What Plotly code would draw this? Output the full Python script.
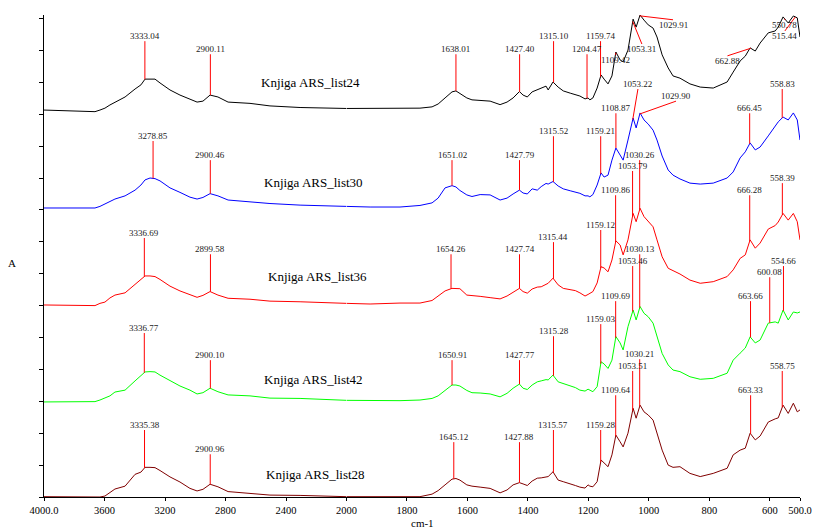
import numpy as np
import plotly.graph_objects as go

# ---------------------------------------------------------------------------
# FTIR spectra (stacked, absorbance with vertical offsets already applied)
# ---------------------------------------------------------------------------
WAVENUMBER = [
    4000, 3828, 3663, 3630, 3597, 3564, 3531, 3464, 3398, 3359, 3332, 3299, 3266,
    3233, 3167, 3101, 3035, 2988, 2949, 2902, 2850, 2783, 2638, 2506, 2307, 2109,
    2000,
    1922, 1823, 1757, 1717, 1697, 1674, 1651, 1638, 1625, 1602,
    1585, 1558, 1525, 1492, 1469, 1449, 1428, 1416, 1402, 1386,
    1369, 1356, 1340, 1333, 1317, 1300, 1283, 1260, 1243, 1228,
    1211, 1201, 1195, 1185, 1171, 1158, 1148, 1135, 1122, 1109,
    1095, 1085, 1069, 1052, 1042, 1029, 1016, 1002, 986, 973,
    956, 936, 920, 897, 864, 830, 787, 741, 721, 698,
    681, 665, 648, 632, 605, 582, 572, 556, 539, 522,
    509, 500,
]

LIST24 = [
    12.13, 12.10, 12.08, 12.13, 12.19, 12.29, 12.38, 12.54, 12.79, 12.92, 13.10, 13.10, 13.10,
    12.98, 12.76, 12.60, 12.48, 12.38, 12.41, 12.60, 12.54, 12.38, 12.34, 12.26, 12.21, 12.19,
    12.18,
    12.18, 12.19, 12.19, 12.23, 12.32, 12.51, 12.70, 12.73, 12.66, 12.51,
    12.45, 12.43, 12.41, 12.30, 12.38, 12.51, 12.71, 12.60, 12.54, 12.70,
    12.76, 12.82, 12.88, 12.76, 13.01, 12.85, 12.73, 12.66, 12.60, 12.57,
    12.48, 12.51, 12.45, 12.51, 12.82, 13.23, 13.10, 12.95, 13.20, 13.95,
    13.70, 13.64, 14.01, 14.98, 14.73, 15.11, 14.95, 14.80, 14.70, 14.42,
    13.86, 13.45, 13.20, 13.13, 12.95, 12.85, 12.82, 13.01, 13.32, 13.67,
    13.82, 14.08, 13.98, 14.23, 14.55, 14.61, 14.73, 15.05, 14.86, 15.08,
    15.02, 14.42,
]

LIST30 = [
    9.06, 9.06, 9.06, 9.11, 9.18, 9.25, 9.34, 9.44, 9.62, 9.78, 9.94, 10.00, 9.98,
    9.91, 9.69, 9.55, 9.40, 9.34, 9.39, 9.51, 9.44, 9.31, 9.25, 9.20, 9.15, 9.12,
    9.11,
    9.09, 9.09, 9.14, 9.22, 9.37, 9.69, 9.76, 9.72, 9.61, 9.47,
    9.42, 9.48, 9.47, 9.31, 9.37, 9.50, 9.62, 9.53, 9.50, 9.66,
    9.62, 9.73, 9.83, 9.81, 9.89, 9.75, 9.66, 9.60, 9.56, 9.52,
    9.44, 9.44, 9.41, 9.48, 9.78, 10.16, 10.03, 10.09, 10.56, 10.94,
    10.72, 10.56, 11.19, 11.88, 11.57, 12.04, 11.82, 11.69, 11.50, 11.19,
    10.69, 10.25, 10.09, 9.97, 9.84, 9.81, 9.84, 10.00, 10.19, 10.63,
    10.82, 11.10, 10.88, 10.97, 11.32, 11.63, 11.76, 11.91, 11.82, 12.04,
    11.82, 11.19,
]

LIST36 = [
    6.02, 6.02, 6.00, 6.07, 6.11, 6.24, 6.33, 6.40, 6.65, 6.80, 6.93, 6.93, 6.91,
    6.82, 6.61, 6.46, 6.33, 6.26, 6.32, 6.44, 6.33, 6.23, 6.20, 6.14, 6.12, 6.08,
    6.07,
    6.05, 6.08, 6.08, 6.16, 6.29, 6.46, 6.54, 6.54, 6.53, 6.33,
    6.32, 6.29, 6.25, 6.21, 6.30, 6.41, 6.54, 6.44, 6.39, 6.52,
    6.58, 6.59, 6.68, 6.70, 6.86, 6.65, 6.54, 6.50, 6.47, 6.40,
    6.30, 6.35, 6.39, 6.44, 6.71, 7.22, 7.18, 7.06, 7.43, 8.03,
    7.90, 7.59, 8.06, 8.89, 8.63, 9.05, 8.79, 8.63, 8.47, 8.06,
    7.53, 7.17, 7.10, 6.99, 6.80, 6.70, 6.75, 6.91, 7.12, 7.48,
    7.59, 8.06, 7.80, 7.96, 8.40, 8.51, 8.62, 8.89, 8.68, 8.89,
    8.63, 8.06,
]

LIST42 = [
    2.98, 2.98, 2.99, 3.04, 3.10, 3.17, 3.29, 3.35, 3.64, 3.79, 3.92, 3.93, 3.92,
    3.82, 3.64, 3.48, 3.35, 3.23, 3.27, 3.41, 3.30, 3.20, 3.17, 3.10, 3.09, 3.06,
    3.03,
    3.02, 3.02, 3.04, 3.09, 3.17, 3.34, 3.51, 3.51, 3.48, 3.34,
    3.27, 3.26, 3.23, 3.14, 3.25, 3.41, 3.54, 3.41, 3.37, 3.51,
    3.61, 3.64, 3.68, 3.67, 3.82, 3.61, 3.56, 3.50, 3.43, 3.35,
    3.32, 3.38, 3.34, 3.30, 3.46, 4.24, 4.17, 4.03, 4.29, 5.03,
    4.83, 4.61, 5.34, 5.86, 5.55, 5.97, 5.76, 5.65, 5.45, 5.02,
    4.50, 4.14, 3.98, 3.93, 3.77, 3.69, 3.72, 3.88, 4.29, 4.51,
    4.67, 5.02, 4.83, 4.92, 5.45, 5.49, 5.45, 5.86, 5.55, 5.80,
    5.77, 5.80,
]

LIST28 = [
    0.01, 0.01, 0.00, 0.00, 0.03, 0.13, 0.25, 0.34, 0.71, 0.78, 0.93, 0.93, 0.92,
    0.83, 0.63, 0.47, 0.27, 0.19, 0.24, 0.40, 0.32, 0.17, 0.12, 0.06, 0.05, 0.02,
    0.01,
    0.01, 0.01, 0.01, 0.09, 0.20, 0.38, 0.56, 0.58, 0.53, 0.38,
    0.34, 0.31, 0.27, 0.13, 0.22, 0.38, 0.45, 0.41, 0.36, 0.50,
    0.59, 0.60, 0.63, 0.64, 0.79, 0.53, 0.48, 0.42, 0.36, 0.31,
    0.28, 0.38, 0.34, 0.32, 0.48, 1.16, 1.08, 0.95, 1.32, 1.94,
    1.73, 1.57, 2.00, 2.78, 2.47, 2.88, 2.67, 2.57, 2.41, 2.00,
    1.47, 1.00, 0.93, 0.95, 0.74, 0.64, 0.74, 0.90, 1.32, 1.47,
    1.53, 2.00, 1.79, 1.91, 2.35, 2.45, 2.48, 2.88, 2.62, 2.94,
    2.67, 2.73,
]

SAMPLE_NAMES = ["Knjiga ARS_list24", "Knjiga ARS_list30", "Knjiga ARS_list36",
                "Knjiga ARS_list42", "Knjiga ARS_list28"]

# Picked peak positions (cm-1) for each spectrum
PEAKS_24 = [3333.04, 2900.11, 1638.01, 1427.40, 1315.10, 1204.47, 1159.74, 1109.42,
            1053.31, 1029.91, 662.88, 550.78, 515.44]
PEAKS_30 = [3278.85, 2900.46, 1651.02, 1427.79, 1315.52, 1159.21, 1108.87, 1053.22,
            1029.90, 666.45, 558.83]
PEAKS_36 = [3336.69, 2899.58, 1654.26, 1427.74, 1315.44, 1159.12, 1109.86, 1053.79,
            1030.26, 666.28, 558.39]
PEAKS_42 = [3336.77, 2900.10, 1650.91, 1427.77, 1315.28, 1159.03, 1109.69, 1053.46,
            1030.13, 663.66, 600.08, 554.66]
PEAKS_28 = [3335.38, 2900.96, 1645.12, 1427.88, 1315.57, 1159.28, 1109.64, 1053.51,
            1030.21, 663.33, 558.75]

X_TICKS_HIGH = [4000, 3600, 3200, 2800, 2400]
X_TICK_TEXT_HIGH = ["4000.0", "3600", "3200", "2800", "2400"]
X_TICKS_LOW = [2000, 1800, 1600, 1400, 1200, 1000, 800, 600, 500]
X_TICK_TEXT_LOW = ["2000", "1800", "1600", "1400", "1200", "1000", "800", "600", "500.0"]

# ---------------------------------------------------------------------------
# Label placement: (label x in cm-1 or None = at the peak, label centre y,
# side of the leader line: "up" = label above the line, "down" = below)
# ---------------------------------------------------------------------------
LABELS_24 = [(None, 14.45, "up"), (None, 14.04, "up"), (None, 14.04, "up"),
             (None, 14.04, "up"), (None, 14.45, "up"), (None, 14.04, "up"),
             (None, 14.45, "up"), (None, 13.70, "down"), (1023, 14.04, "down"),
             (920, 14.80, "down"), (740, 13.67, "down"), (550, 14.80, "down"),
             (550, 14.45, "down")]
LABELS_30 = [(None, 11.32, "up"), (None, 10.72, "up"), (None, 10.72, "up"),
             (None, 10.72, "up"), (None, 11.47, "up"), (None, 11.47, "up"),
             (None, 12.19, "up"), (1036, 12.95, "up"), (910, 12.57, "up"),
             (None, 12.19, "up"), (None, 12.95, "up")]
LABELS_36 = [(None, 8.28, "up"), (None, 7.77, "up"), (None, 7.77, "up"),
             (None, 7.77, "up"), (None, 8.15, "up"), (None, 8.53, "up"),
             (None, 9.62, "up"), (None, 10.38, "up"), (None, 10.72, "up"),
             (None, 9.62, "up"), (None, 10.00, "up")]
LABELS_42 = [(None, 5.30, "up"), (None, 4.45, "up"), (None, 4.45, "up"),
             (None, 4.45, "up"), (None, 5.20, "up"), (None, 5.58, "up"),
             (None, 6.30, "up"), (None, 7.40, "up"), (None, 7.77, "up"),
             (None, 6.30, "up"), (None, 7.05, "up"), (None, 7.40, "up")]
LABELS_28 = [(None, 2.26, "up"), (None, 1.50, "up"), (None, 1.88, "up"),
             (None, 1.88, "up"), (None, 2.26, "up"), (None, 2.26, "up"),
             (None, 3.35, "up"), (None, 4.11, "up"), (None, 4.48, "up"),
             (None, 3.35, "up"), (None, 4.11, "up")]

# Sample name placement (cm-1 on the high-wavenumber axis, y)
NAME_POS = [(2235, 12.98), (2221, 9.87), (2195, 6.90), (2215, 3.67), (2208, 0.69)]

COLORS = ["#000000", "#0000ff", "#ff0000", "#00ff00", "#800000"]
SPECTRA = [LIST24, LIST30, LIST36, LIST42, LIST28]
PEAKS = [PEAKS_24, PEAKS_30, PEAKS_36, PEAKS_42, PEAKS_28]
LABELS = [LABELS_24, LABELS_30, LABELS_36, LABELS_42, LABELS_28]

for s in SPECTRA:
    assert len(s) == len(WAVENUMBER)

SERIF = "Liberation Serif, Times New Roman, serif"
SPLIT = 302.5 / 756.0   # 4000-2000 cm-1 drawn at half the scale of 2000-500 cm-1
GAP = 0.16              # half text height in y units

wn = np.array(WAVENUMBER, dtype=float)


def axis_of(w):
    return "x" if w > 2000 else "x2"


def value_at(w, ys):
    return float(np.interp(w, wn[::-1], np.asarray(ys, dtype=float)[::-1]))


fig = go.Figure()
high = wn >= 2000
low = wn <= 2000
for ys, color in zip(SPECTRA, COLORS):
    y = np.asarray(ys, dtype=float)
    fig.add_trace(go.Scatter(x=wn[high], y=y[high], xaxis="x", yaxis="y", mode="lines",
                             line=dict(color=color, width=1), showlegend=False,
                             hoverinfo="skip"))
    fig.add_trace(go.Scatter(x=wn[low], y=y[low], xaxis="x2", yaxis="y", mode="lines",
                             line=dict(color=color, width=1), showlegend=False,
                             hoverinfo="skip"))

shapes = []
annotations = []
for ys, peaks, labels in zip(SPECTRA, PEAKS, LABELS):
    for p, (lx, ly, side) in zip(peaks, labels):
        tx = p if lx is None else lx
        ax = axis_of(p)
        y_curve = value_at(p, ys)
        y_end = ly - GAP if side == "up" else ly + GAP
        shapes.append(dict(type="line", xref=ax, yref="y", x0=p, y0=y_curve,
                           x1=tx, y1=y_end, line=dict(color="#ff0000", width=1)))
        annotations.append(dict(text=f"{p:.2f}", x=tx, y=ly, xref=axis_of(tx), yref="y",
                                showarrow=False, xanchor="center", yanchor="middle",
                                font=dict(family=SERIF, size=9, color="#222222")))

for name, (nx, ny) in zip(SAMPLE_NAMES, NAME_POS):
    annotations.append(dict(text=name, x=nx, y=ny, xref="x", yref="y", showarrow=False,
                            xanchor="center", yanchor="middle",
                            font=dict(family=SERIF, size=13, color="#000000")))

annotations.append(dict(text="cm-1", x=0.5, y=-0.054, xref="paper", yref="paper",
                        showarrow=False, xanchor="center", yanchor="middle",
                        font=dict(family=SERIF, size=11, color="#000000")))
annotations.append(dict(text="A", x=-0.042, y=0.486, xref="paper", yref="paper",
                        showarrow=False, xanchor="center", yanchor="middle",
                        font=dict(family=SERIF, size=11, color="#000000")))

common_x = dict(showline=True, linecolor="#000000", linewidth=1, ticks="outside",
                ticklen=3, tickcolor="#000000", showgrid=False, zeroline=False,
                anchor="y", automargin=False,
                tickfont=dict(family=SERIF, size=10.5, color="#000000"))

fig.update_layout(
    width=814, height=531,
    margin=dict(l=44, r=14, t=15, b=34, autoexpand=False),
    paper_bgcolor="#ffffff", plot_bgcolor="#ffffff",
    xaxis=dict(domain=[0, SPLIT], range=[4000, 2000], tickvals=X_TICKS_HIGH,
               ticktext=X_TICK_TEXT_HIGH, **common_x),
    xaxis2=dict(domain=[SPLIT, 1], range=[2000, 500], tickvals=X_TICKS_LOW,
                ticktext=X_TICK_TEXT_LOW, **common_x),
    yaxis=dict(range=[0, 15.11], tick0=0, dtick=1, ticks="outside", ticklen=4,
               tickcolor="#000000", showticklabels=False, showline=True,
               linecolor="#000000", linewidth=1, showgrid=False, zeroline=False,
               anchor="x", automargin=False),
    shapes=shapes,
    annotations=annotations,
    showlegend=False,
)

fig.write_html("out.html")
